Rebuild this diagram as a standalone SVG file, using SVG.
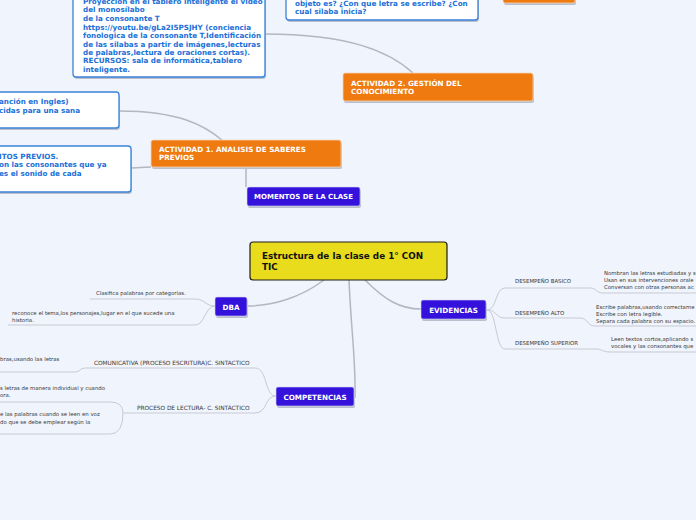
<svg xmlns="http://www.w3.org/2000/svg" width="696" height="520" viewBox="0 0 696 520">
<style>
.bg{fill:#f0f4fc}
.blue{fill:#fff;stroke:#3b82d9;stroke-width:1.3}
.sh{fill:#b9bfcc}
.bt{font-family:"DejaVu Sans",Verdana,sans-serif;font-weight:bold;font-size:7.2px;fill:#1b6fd8}
.orange{fill:#ee7a10;stroke:#f6d6b8;stroke-width:0.8}
.wt{font-family:"DejaVu Sans",Verdana,sans-serif;font-weight:bold;font-size:7.2px;fill:#fff}
.purple{fill:#3512dc;stroke:#d6d6f2;stroke-width:0.6}
.yellow{fill:#e8dc1c;stroke:#1c1c1c;stroke-width:1.2}
.ct{font-family:"DejaVu Sans",Verdana,sans-serif;font-weight:bold;font-size:8.8px;fill:#111}
.st{font-family:"DejaVu Sans",Verdana,sans-serif;font-size:5.4px;fill:#383838}
.main{fill:none;stroke:#b4b6c0;stroke-width:1.5}
.sub{fill:none;stroke:#c8cad2;stroke-width:1}
</style>
<rect class="bg" x="0" y="0" width="696" height="520"/>

<g id="connectors">
  <path class="main" d="M265,34 C350,34 390,52 413,73"/>
  <path class="main" d="M119,111 C180,111 205,126 222,140"/>
  <path class="main" d="M131,168 L151,167"/>
  <path class="main" d="M246,167 L246,187"/>
  <path class="main" d="M324,280 C300,298 272,306 247,306"/>
  <path class="main" d="M349,280 C351,330 356,360 355,398"/>
  <path class="main" d="M365,280 C385,300 400,309 421,309"/>
  <path class="sub" d="M90,299 L195,299 C205,299 205,306 215,306"/>
  <path class="sub" d="M8,325 L195,325 C205,325 205,306 215,306"/>
  <path class="sub" d="M0,372 L75,372 C80,372 80,368 85,368 L255,368 C268,368 264,396 276,396"/>
  <path class="sub" d="M123,413 L255,413 C268,413 264,396 276,396"/>
  <path class="sub" d="M-10,402 L110,402 Q123,402 123,413 Q123,434 110,434 L-10,434"/>
  <path class="sub" d="M487,310 C497,310 495,288 505,288 L590,288 C597,288 596,293 603,293 L696,293"/>
  <path class="sub" d="M487,310 C497,310 495,318 505,318 L580,318 C588,318 587,326 595,326 L696,326"/>
  <path class="sub" d="M487,310 C497,310 495,349 505,349 L595,349 C602,349 603,352 610,352 L696,352"/>
</g>

<g id="node-recursos">
  <rect class="sh" x="74" y="-8" width="192" height="87" rx="3"/>
  <rect class="blue" x="73" y="-10" width="192" height="87" rx="3"/>
  <text class="bt" x="83" y="3.5">Proyección en el tablero inteligente el video</text>
  <text class="bt" x="83" y="12">del monosílabo</text>
  <text class="bt" x="83" y="21">de la consonante T</text>
  <text class="bt" x="83" y="30">https://youtu.be/gLa2I5PSJHY (conciencia</text>
  <text class="bt" x="83" y="38">fonologica de la consonante T,Identificación</text>
  <text class="bt" x="83" y="47">de las silabas a partir de imágenes,lecturas</text>
  <text class="bt" x="83" y="55">de palabras,lectura de oraciones cortas).</text>
  <text class="bt" x="83" y="63">RECURSOS: sala de informática,tablero</text>
  <text class="bt" x="83" y="72">inteligente.</text>
</g>

<g id="node-pregunta">
  <rect class="sh" x="287" y="-8" width="192" height="30" rx="3"/>
  <rect class="blue" x="286" y="-10" width="192" height="30" rx="3"/>
  <text class="bt" x="295" y="6">objeto es? ¿Con que letra se escribe? ¿Con</text>
  <text class="bt" x="295" y="14">cual silaba inicia?</text>
</g>

<g id="node-actividad3">
  <rect class="sh" x="504" y="-8" width="72" height="13" rx="2"/>
  <rect class="orange" x="503" y="-10" width="72" height="13" rx="2"/>
</g>

<g id="node-actividad2">
  <rect class="sh" x="344" y="75" width="190" height="28" rx="2"/>
  <rect class="orange" x="343" y="73" width="190" height="28" rx="2"/>
  <text class="wt" x="351" y="86">ACTIVIDAD 2. GESTIÓN DEL</text>
  <text class="wt" x="351" y="94">CONOCIMIENTO</text>
</g>

<g id="node-cancion">
  <rect class="sh" x="-9" y="94" width="129" height="36" rx="3"/>
  <rect class="blue" x="-10" y="92" width="129" height="36" rx="3"/>
  <text class="bt" x="-1" y="104">anción en Ingles)</text>
  <text class="bt" x="-1" y="113">cidas para una sana</text>
</g>

<g id="node-previos">
  <rect class="sh" x="-9" y="148" width="141" height="46" rx="3"/>
  <rect class="blue" x="-10" y="146" width="141" height="46" rx="3"/>
  <text class="bt" x="-1" y="159">ITOS PREVIOS.</text>
  <text class="bt" x="-1" y="167">on las consonantes que ya</text>
  <text class="bt" x="-1" y="176">es el sonido de cada</text>
</g>

<g id="node-actividad1">
  <rect class="sh" x="152" y="142" width="190" height="27" rx="2"/>
  <rect class="orange" x="151" y="140" width="190" height="27" rx="2"/>
  <text class="wt" x="159" y="152">ACTIVIDAD 1. ANALISIS DE SABERES</text>
  <text class="wt" x="159" y="160">PREVIOS</text>
</g>

<g id="node-momentos">
  <rect class="sh" x="248" y="189" width="113" height="19" rx="2"/>
  <rect class="purple" x="247" y="187" width="113" height="19" rx="2"/>
  <text class="wt" x="303.5" y="199" text-anchor="middle" style="font-size:7px">MOMENTOS DE LA CLASE</text>
</g>

<g id="node-central">
  <rect class="yellow" x="250" y="242" width="197" height="38" rx="3"/>
  <text class="ct" x="262" y="259">Estructura de la clase de 1° CON</text>
  <text class="ct" x="262" y="270">TIC</text>
</g>

<g id="node-dba">
  <rect class="sh" x="216" y="299" width="32" height="19" rx="2"/>
  <rect class="purple" x="215" y="297" width="32" height="19" rx="2"/>
  <text class="wt" x="231" y="309.5" text-anchor="middle">DBA</text>
</g>
<g id="node-clasifica">
  <text class="st" x="96" y="295">Clasifica palabras por categorías.</text>
</g>
<g id="node-reconoce">
  <text class="st" x="12" y="315">reconoce el tema,los personajes,lugar en el que sucede una</text>
  <text class="st" x="12" y="322">historia.</text>
</g>

<g id="node-competencias">
  <rect class="sh" x="277" y="389" width="78" height="19" rx="2"/>
  <rect class="purple" x="276" y="387" width="78" height="19" rx="2"/>
  <text class="wt" x="315" y="399.5" text-anchor="middle">COMPETENCIAS</text>
</g>
<g id="node-comunicativa">
  <text class="st" x="94" y="365" style="font-size:5.8px">COMUNICATIVA (PROCESO ESCRITURA)C. SINTACTICO</text>
</g>
<g id="node-escribe">
  <text class="st" x="0" y="361">bras,usando las letras</text>
</g>
<g id="node-lectura">
  <text class="st" x="137" y="410" style="font-size:5.8px">PROCESO DE LECTURA- C. SINTÁCTICO</text>
</g>
<g id="node-lee-letras">
  <text class="st" x="0" y="390">s letras de manera individual y cuando</text>
  <text class="st" x="0" y="397">ora.</text>
</g>
<g id="node-palabras-voz">
  <text class="st" x="0" y="416">e las palabras cuando se leen en voz</text>
  <text class="st" x="0" y="424">do que se debe emplear según la</text>
</g>

<g id="node-evidencias">
  <rect class="sh" x="422" y="302" width="65" height="19" rx="2"/>
  <rect class="purple" x="421" y="300" width="65" height="19" rx="2"/>
  <text class="wt" x="453.5" y="312.5" text-anchor="middle">EVIDENCIAS</text>
</g>
<g id="node-basico">
  <text class="st" x="515" y="283">DESEMPEÑO BASICO</text>
</g>
<g id="node-basico-txt">
  <text class="st" x="604" y="275">Nombran las letras estudiadas y s</text>
  <text class="st" x="604" y="282">Usan en sus intervenciones orale</text>
  <text class="st" x="604" y="289">Conversan con otras personas ac</text>
</g>
<g id="node-alto">
  <text class="st" x="515" y="315">DESEMPEÑO ALTO</text>
</g>
<g id="node-alto-txt">
  <text class="st" x="596" y="309">Escribe palabras,usando correctame</text>
  <text class="st" x="596" y="316">Escribe con letra legible.</text>
  <text class="st" x="596" y="323">Separa cada palabra con su espacio.</text>
</g>
<g id="node-superior">
  <text class="st" x="515" y="345">DESEMPEÑO SUPERIOR</text>
</g>
<g id="node-superior-txt">
  <text class="st" x="611" y="341">Leen textos cortos,aplicando s</text>
  <text class="st" x="611" y="348">vocales y las consonantes que</text>
</g>
</svg>
